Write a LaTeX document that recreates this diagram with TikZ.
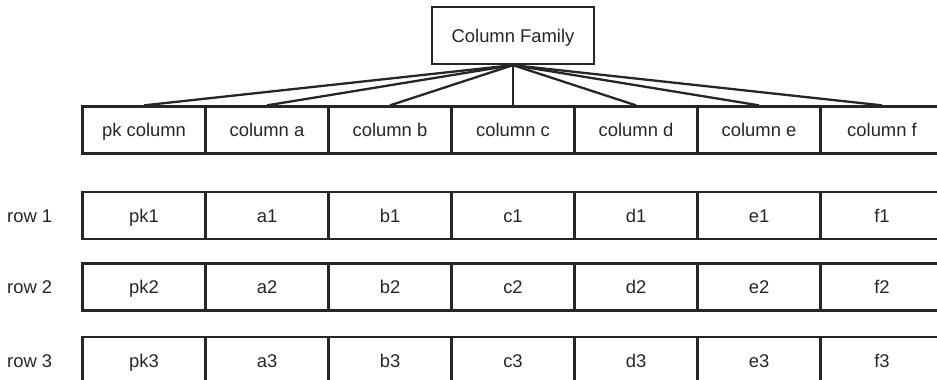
\documentclass[tikz,border=0pt]{standalone}
\usepackage{fontspec}
\setmainfont{Liberation Sans}
\begin{document}
\begin{tikzpicture}[x=1pt,y=-1pt,
  every node/.style={font=\fontsize{18.4}{22}\selectfont, text=black!85},
  cell/.style={draw=black!85, line width=2.3pt, minimum width=123pt, minimum height=47pt, inner sep=0pt, text height=13.2pt, text depth=0pt, anchor=center},
  fam/.style={draw=black!85, line width=2.3pt, minimum width=162pt, minimum height=57pt, inner sep=0pt, text height=13.2pt, text depth=0pt},
  rowlbl/.style={anchor=west, inner sep=0pt, text height=13.2pt, text depth=0pt},
  fan/.style={draw=black!85, line width=2.3pt}]
\useasboundingbox (0,0) rectangle (937,380);
\node[fam] (cf) at (513,35.5) {Column Family};
% header
\node[cell] (h0) at (144,130) {pk column};
\node[cell] (h1) at (267,130) {column a};
\node[cell] (h2) at (390,130) {column b};
\node[cell] (h3) at (513,130) {column c};
\node[cell] (h4) at (636,130) {column d};
\node[cell] (h5) at (759,130) {column e};
\node[cell] (h6) at (882,130) {column f};
\foreach \i in {0,...,6} {\draw[fan] (cf.south) -- (h\i.north);}
% rows
\foreach \r/\y in {1/215.5, 2/287, 3/360.5} {
  \node[rowlbl] (rl\r) at (7,\y) {row \r};
  \node[cell] (r\r c0) at (144,\y) {pk\r};
  \node[cell] (r\r c1) at (267,\y) {a\r};
  \node[cell] (r\r c2) at (390,\y) {b\r};
  \node[cell] (r\r c3) at (513,\y) {c\r};
  \node[cell] (r\r c4) at (636,\y) {d\r};
  \node[cell] (r\r c5) at (759,\y) {e\r};
  \node[cell] (r\r c6) at (882,\y) {f\r};
}
\end{tikzpicture}
\end{document}
